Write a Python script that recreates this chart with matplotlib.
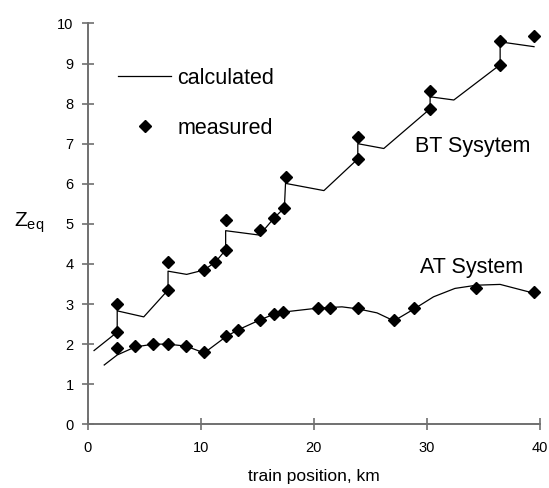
import matplotlib
matplotlib.use("Agg")
import matplotlib.pyplot as plt

plt.rcParams['font.family'] = ['Liberation Sans', 'DejaVu Sans']

# AT system
at_meas_x = [2.6, 4.2, 5.8, 7.1, 8.7, 10.3, 12.2, 13.25, 15.2, 16.5, 17.3, 20.4, 21.4, 23.9, 27.1, 28.9, 34.4, 39.5]
at_meas_y = [1.9, 1.95, 2.0, 2.0, 1.95, 1.8, 2.2, 2.35, 2.6, 2.75, 2.8, 2.9, 2.9, 2.9, 2.6, 2.9, 3.4, 3.3]
at_calc_x = [1.45, 2.6, 4.2, 5.8, 7.1, 8.7, 10.3, 12.2, 13.25, 15.2, 16.5, 17.3, 20.4, 22.5, 23.9, 25.6, 27.1, 28.9, 30.6, 32.5, 34.4, 36.5, 39.5]
at_calc_y = [1.48, 1.73, 1.93, 2.0, 2.0, 1.95, 1.78, 2.18, 2.35, 2.6, 2.75, 2.8, 2.9, 2.93, 2.88, 2.78, 2.58, 2.88, 3.18, 3.39, 3.47, 3.49, 3.27]

# BT system
bt_meas_x = [2.6, 2.6, 7.1, 7.1, 10.3, 11.3, 12.2, 12.2, 15.2, 16.5, 17.4, 17.5, 23.9, 23.9, 30.3, 30.3, 36.5, 36.5, 39.5]
bt_meas_y = [2.3, 3.0, 3.35, 4.05, 3.85, 4.05, 4.35, 5.1, 4.85, 5.15, 5.4, 6.17, 6.62, 7.17, 7.87, 8.32, 8.97, 9.57, 9.68]
bt_calc_x = [0.55, 2.6, 2.6, 4.95, 7.1, 7.1, 8.75, 10.3, 11.3, 12.2, 12.2, 15.2, 16.5, 17.4, 17.5, 20.9, 23.9, 23.9, 26.2, 30.3, 30.3, 32.4, 36.5, 36.5, 39.5]
bt_calc_y = [1.84, 2.3, 2.83, 2.68, 3.35, 3.82, 3.74, 3.85, 4.05, 4.35, 4.83, 4.72, 5.15, 5.4, 6.01, 5.83, 6.62, 7.0, 6.88, 7.87, 8.17, 8.09, 8.97, 9.54, 9.42]

xticks = [0, 10, 20, 30, 40]
yticks = list(range(0, 11))

fig = plt.figure(figsize=(5.49, 4.88), dpi=100)
ax = fig.add_axes([0.160, 0.1305, 0.823, 0.8215])

ax.plot(bt_calc_x, bt_calc_y, color='black', lw=0.9, label='calculated')
ax.plot(at_calc_x, at_calc_y, color='black', lw=0.9)
ax.plot(bt_meas_x, bt_meas_y, 'D', color='black', ms=5.8, label='measured', clip_on=False)
ax.plot(at_meas_x, at_meas_y, 'D', color='black', ms=5.8, clip_on=False)

ax.set_xlim(0, 40)
ax.set_ylim(0, 10)
ax.set_xticks(xticks)
ax.set_yticks(yticks)
for s in ['top', 'right']:
    ax.spines[s].set_visible(False)
for s in ['left', 'bottom']:
    ax.spines[s].set_color('#707070')
    ax.spines[s].set_linewidth(1.4)
ax.tick_params(direction='inout', length=8.5, width=1.2, color='#707070', labelsize=10.5)
ax.tick_params(axis='y', pad=6)
ax.tick_params(axis='x', pad=8)

ax.text(29.0, 6.92, 'BT Sysytem', fontsize=15.5, va='center', ha='left')
ax.text(29.4, 3.9, 'AT System', fontsize=15.5, va='center', ha='left')

fig.text(0.025, 0.543, r'Z$_{\mathregular{eq}}$', fontsize=15, va='center', ha='left')
fig.text(0.572, 0.008, 'train position, km', fontsize=12.5, ha='center', va='bottom')

leg = ax.legend(loc='upper left', bbox_to_anchor=(0.066, 0.89), frameon=False,
                borderpad=0, borderaxespad=0,
                fontsize=15.5, handlelength=2.5, handletextpad=0.28, labelspacing=1.35)

fig.savefig('out.png', dpi=100)
